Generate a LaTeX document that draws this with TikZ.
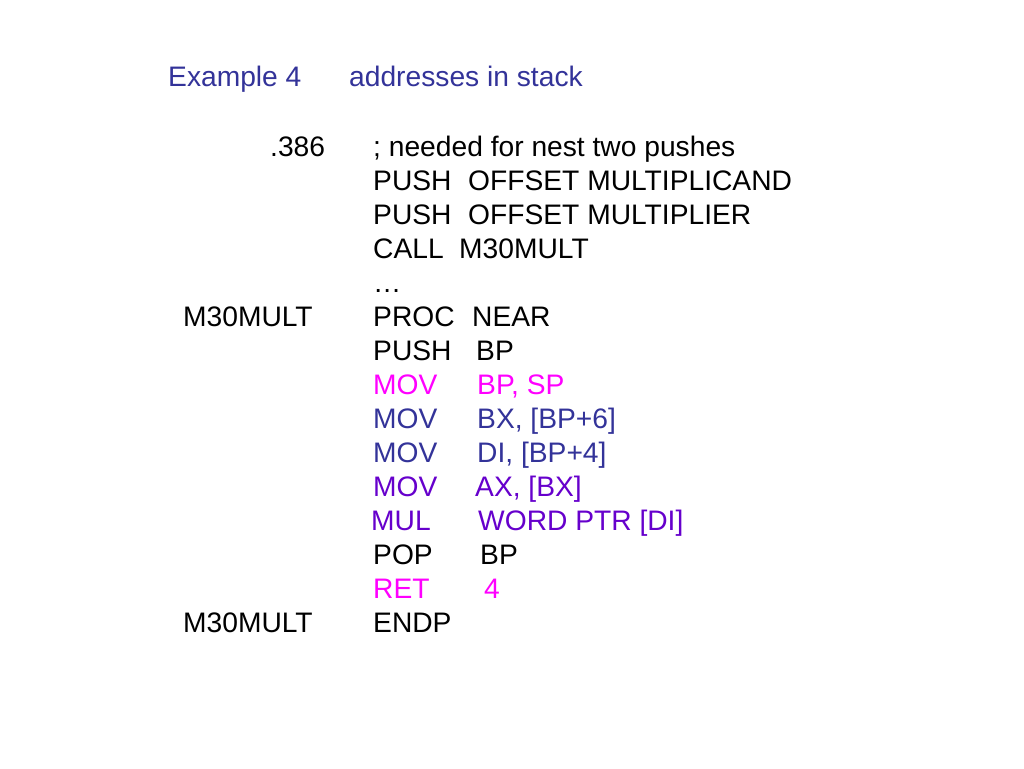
\documentclass[tikz,border=0pt]{standalone}
\usepackage{fontspec}
\setmainfont{Liberation Sans}
\usepackage{xcolor}
\definecolor{titleblue}{HTML}{333399}
\definecolor{hotpink}{HTML}{FF00FF}
\definecolor{violet}{HTML}{6600CC}
\begin{document}
\begin{tikzpicture}[x=1pt,y=-1pt,
    txt/.style={anchor=base west,inner sep=0pt,font=\fontsize{28.2}{34}\selectfont},
    tline/.style={txt,text=titleblue}]
    \useasboundingbox (0,0) rectangle (1024,768);
    \node[tline] (ttl) at (168,86) {Example 4};
    \node[tline] (ttlb) at (349,86) {addresses in stack};
    \node[txt] (dir) at (270,156) {.386};
    \node[txt] (cmt) at (373,156) {; needed for nest two pushes};
    \node[txt] (op1) at (373,190) {PUSH};
    \node[txt] (ar1) at (468,190) {OFFSET MULTIPLICAND};
    \node[txt] (op2) at (373,224) {PUSH};
    \node[txt] (ar2) at (468,224) {OFFSET MULTIPLIER};
    \node[txt] (op3) at (373,258) {CALL};
    \node[txt] (ar3) at (459,258) {M30MULT};
    \node[txt] (dots) at (373,292) {…};
    \node[txt] (lbl1) at (183,326) {M30MULT};
    \node[txt] (op4) at (373,326) {PROC};
    \node[txt] (ar4) at (472,326) {NEAR};
    \node[txt] (op5) at (373,360) {PUSH};
    \node[txt] (ar5) at (476,360) {BP};
    \node[txt,text=hotpink] (op6) at (373,394) {MOV};
    \node[txt,text=hotpink] (ar6) at (477,394) {BP, SP};
    \node[txt,text=titleblue] (op7) at (373,428) {MOV};
    \node[txt,text=titleblue] (ar7) at (477,428) {BX, [BP+6]};
    \node[txt,text=titleblue] (op8) at (373,462) {MOV};
    \node[txt,text=titleblue] (ar8) at (477,462) {DI, [BP+4]};
    \node[txt,text=violet] (op9) at (373,496) {MOV};
    \node[txt,text=violet] (ar9) at (475,496) {AX, [BX]};
    \node[txt,text=violet] (op10) at (371,530) {MUL};
    \node[txt,text=violet] (ar10) at (478,530) {WORD PTR [DI]};
    \node[txt] (op11) at (373,564) {POP};
    \node[txt] (ar11) at (480,564) {BP};
    \node[txt,text=hotpink] (op12) at (373,598) {RET};
    \node[txt,text=hotpink] (ar12) at (484,598) {4};
    \node[txt] (lbl2) at (183,632) {M30MULT};
    \node[txt] (op13) at (373,632) {ENDP};
\end{tikzpicture}
\end{document}
